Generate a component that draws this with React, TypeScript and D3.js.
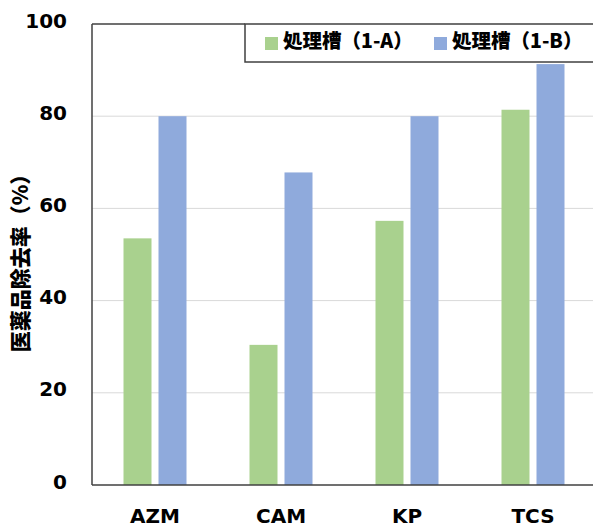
import React from "react";
import * as d3 from "d3";

const categories = ["AZM", "CAM", "KP", "TCS"];
const seriesNames = ["処理槽（1-A）", "処理槽（1-B）"];
const seriesA = [53.5, 30.4, 57.3, 81.4];
const seriesB = [80.0, 67.8, 80.0, 91.3];
const yTicks = [0, 20, 40, 60, 80, 100];
const colors = ["#a9d18e", "#8faadc"];

const W = 593;
const H = 527;
const left = 92;
const top = 24;
const bottom = 485;
const right = 596;

export default function App() {
  const x = d3.scaleBand<string>().domain(categories).range([left, right]).paddingInner(0).paddingOuter(0);
  const y = d3.scaleLinear().domain([0, 100]).range([bottom, top]);
  const barW = 28;
  const gap = 7;
  const latin = "'DejaVu Sans', Verdana, sans-serif";
  const cjk = "'Noto Sans CJK JP', 'DejaVu Sans', sans-serif";
  const axisColor = "#404040";
  const legendLeft = 245;
  const legendBottom = 62;

  return (
    <svg width={W} height={H} style={{ position: "absolute", left: 0, top: 0, background: "#fff" }}>
      <rect x={0} y={0} width={W} height={H} fill="#fff" />
      {yTicks.filter((t) => t > 0 && t < 100).map((t) => (
        <line key={t} x1={left} x2={W} y1={y(t)} y2={y(t)} stroke="#d9d9d9" strokeWidth={1} />
      ))}
      {categories.map((c, i) => {
        const cx = (x(c) as number) + x.bandwidth() / 2;
        return (
          <g key={c}>
            <rect x={cx - gap / 2 - barW} y={y(seriesA[i])} width={barW} height={bottom - y(seriesA[i])} fill={colors[0]} />
            <rect x={cx + gap / 2} y={y(seriesB[i])} width={barW} height={bottom - y(seriesB[i])} fill={colors[1]} />
            <text x={cx} y={523} textAnchor="middle" fontFamily={latin} fontWeight="bold" fontSize={20} fill="#000">{c}</text>
          </g>
        );
      })}
      <line x1={left} x2={left} y1={top} y2={bottom} stroke={axisColor} strokeWidth={1.5} />
      <line x1={left} x2={legendLeft} y1={top} y2={top} stroke={axisColor} strokeWidth={1.5} />
      <line x1={left} x2={W} y1={bottom} y2={bottom} stroke={axisColor} strokeWidth={1.5} />
      {yTicks.map((t) => (
        <text key={t} x={67} y={y(t) - 2} textAnchor="end" dominantBaseline="middle" fontFamily={latin} fontWeight="bold" fontSize={20} fill="#000">{t}</text>
      ))}
      <text transform={`translate(22,${258}) rotate(-90)`} textAnchor="middle" dominantBaseline="middle" fontFamily={cjk} fontWeight={900} fontSize={21} fill="#000">医薬品除去率（%）</text>
      <rect x={legendLeft} y={top} width={W - legendLeft + 2} height={legendBottom - top} fill="#fff" stroke={axisColor} strokeWidth={1.5} />
      {seriesNames.map((s, i) => {
        const lx = [265, 434][i];
        return (
          <g key={s}>
            <rect x={lx} y={37} width={13} height={13} fill={colors[i]} />
            <text x={lx + 18} y={43} dominantBaseline="middle" fontFamily={cjk} fontWeight={900} fontSize={19.5} fill="#000">{s}</text>
          </g>
        );
      })}
    </svg>
  );
}
